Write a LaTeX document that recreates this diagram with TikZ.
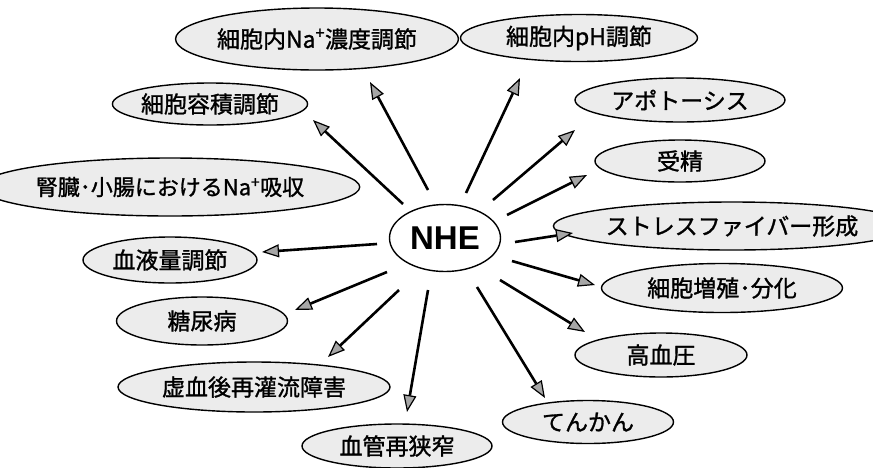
\documentclass[tikz,border=0pt]{standalone}
\usepackage{fontspec}
\newfontfamily\cjk[FakeBold=1.2]{Noto Sans CJK JP}
\newfontfamily\nhefont{Liberation Sans}
\usetikzlibrary{shapes.geometric,arrows.meta}
\tikzset{
  bubble/.style={ellipse, draw, line width=1.4pt, fill=gray!15, inner sep=0pt,
    font=\cjk\fontsize{23}{26}\selectfont},
  hub/.style={ellipse, draw, line width=1.4pt, fill=white, inner sep=0pt,
    font=\nhefont\bfseries\fontsize{33}{36}\selectfont},
  arr/.style={line width=2.6pt, -{Triangle[length=17pt,width=13pt,fill=gray!70,line width=1.2pt]}}
}
\begin{document}
\begin{tikzpicture}[x=1pt,y=-1pt]
\useasboundingbox (0,0) rectangle (873,467);
% nodes
\node[hub, minimum width=111, minimum height=67] (nhe) at (445,238) {NHE};
\node[bubble, minimum width=258, minimum height=62] (na) at (317,39) {細胞内Na\textsuperscript{+}濃度調節};
\node[bubble, minimum width=237, minimum height=47] (ph) at (579,38) {細胞内pH調節};
\node[bubble, minimum width=194, minimum height=42] (vol) at (210,104) {細胞容積調節};
\node[bubble, minimum width=320, minimum height=58, font=\cjk\fontsize{22}{26}\selectfont] (jin) at (170,187) {腎臓･小腸におけるNa\textsuperscript{+}吸収};
\node[bubble, minimum width=210, minimum height=44] (apo) at (680,100) {アポトーシス};
\node[bubble, minimum width=170, minimum height=42] (jusei) at (680,161) {受精};
\node[bubble, minimum width=276, minimum height=48] (stress) at (732,226) {ストレスファイバー形成};
\node[bubble, minimum width=174, minimum height=46] (blood) at (170,260) {血液量調節};
\node[bubble, minimum width=241, minimum height=49] (zou) at (722,288) {細胞増殖･分化};
\node[bubble, minimum width=171, minimum height=48] (tou) at (202,321) {糖尿病};
\node[bubble, minimum width=172, minimum height=44] (kou) at (661,355) {高血圧};
\node[bubble, minimum width=272, minimum height=50] (kyo) at (254,387) {虚血後再灌流障害};
\node[bubble, minimum width=171, minimum height=43] (ten) at (588,422) {てんかん};
\node[bubble, minimum width=190, minimum height=44] (kek) at (397,446) {血管再狭窄};
% arrow ends
\coordinate (s1) at (428,190); \coordinate (t1) at (370,82);
\coordinate (s2) at (403,204); \coordinate (t2) at (313,120);
\coordinate (s3) at (466,193); \coordinate (t3) at (520,78);
\coordinate (s4) at (493,200); \coordinate (t4) at (575,130);
\coordinate (s5) at (507,215); \coordinate (t5) at (587,175);
\coordinate (s6) at (515,242); \coordinate (t6) at (573,233);
\coordinate (s7) at (512,261); \coordinate (t7) at (595,285);
\coordinate (s8) at (500,280); \coordinate (t8) at (585,332);
\coordinate (s9) at (477,287); \coordinate (t9) at (545,398);
\coordinate (s10) at (428,290); \coordinate (t10) at (407,412);
\coordinate (s11) at (399,290); \coordinate (t11) at (328,357);
\coordinate (s12) at (387,272); \coordinate (t12) at (295,310);
\coordinate (s13) at (377,244); \coordinate (t13) at (262,252);
\foreach \i in {1,...,13} {\draw[arr] (s\i) -- (t\i);}
\end{tikzpicture}
\end{document}
